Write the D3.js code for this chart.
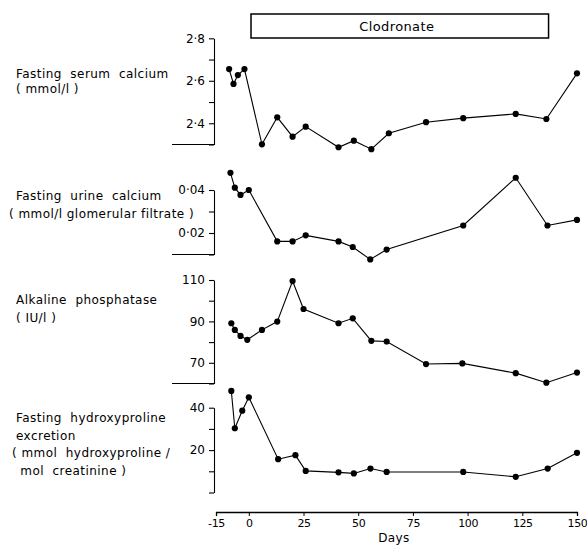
<!DOCTYPE html>
<html>
<head>
<meta charset="utf-8">
<script src="https://cdn.jsdelivr.net/npm/d3@7"></script>
<style>
html,body{margin:0;padding:0;background:#fff;}
svg{display:block;}
text{font-family:"DejaVu Sans",sans-serif;fill:#000;}
</style>
</head>
<body>
<svg id="chart" width="587" height="545"></svg>
<script>
// ---------- DATA ----------
const serumDays   = [-9, -7, -5, -2, 6, 13, 20, 26, 41, 48, 56, 64, 81, 98, 122, 136, 150];
const serumCa     = [2.655, 2.585, 2.627, 2.655, 2.301, 2.428, 2.337, 2.384, 2.287, 2.318, 2.278, 2.353, 2.405, 2.424, 2.444, 2.42, 2.635];

const urineDays   = [-8.4, -6.4, -3.8, 0, 13, 20, 26, 41, 47.5, 55.5, 63, 98, 122, 136.5, 150];
const urineCa     = [0.048, 0.0411, 0.0377, 0.040, 0.0161, 0.0161, 0.0189, 0.0161, 0.0135, 0.0077, 0.0123, 0.0235, 0.0457, 0.0235, 0.0261];

const alpDays     = [-8, -6.4, -3.8, -0.7, 6, 13, 20, 25, 41, 47.5, 56, 63, 81, 97.6, 122, 136, 150];
const alp         = [89.1, 85.9, 83, 81.1, 85.9, 89.9, 109.5, 96, 89.1, 91.5, 80.6, 80.3, 69.4, 69.7, 65, 60.4, 65.3];

const hypDays     = [-8, -6.4, -3, 0, 13.4, 21.3, 26, 41, 48, 55.6, 63, 98, 122, 136.6, 150];
const hyp         = [47.9, 30.3, 38.6, 44.9, 15.7, 17.6, 10.2, 9.5, 9.0, 11.3, 9.7, 9.7, 7.4, 11.3, 18.7];

const xTicks      = [-15, 0, 25, 50, 75, 100, 125, 150];
const treatment   = {label: "Clodronate", start: 1, end: 137};

const panelLabels = [
  ["Fasting  serum  calcium", "( mmol/l )"],
  ["Fasting  urine  calcium", "( mmol/l glomerular filtrate )"],
  ["Alkaline  phosphatase", "( IU/l )"],
  ["Fasting  hydroxyproline", "excretion", "( mmol  hydroxyproline /", " mol  creatinine )"]
];

// ---------- LAYOUT ----------
const svg = d3.select("#chart");
const axisX = 214;
const x = d3.scaleLinear().domain([-15, 150]).range([216, 577]);

const dot = s => s.replace(".", "\u00B7");

const panels = [
  {days: serumDays, vals: serumCa, domain: [2.3, 2.8], range: [144.5, 38.3],
   ticks: [2.3, 2.4, 2.5, 2.6, 2.7, 2.8], labels: [2.4, 2.6, 2.8], fmt: d => dot(d3.format(".1f")(d)),
   base: true, labelY: [74, 89], labelX: [16, 16]},
  {days: urineDays, vals: urineCa, domain: [0.01, 0.04], range: [254.5, 190],
   ticks: [0.01, 0.02, 0.03, 0.04], labels: [0.02, 0.04], fmt: d => dot(d3.format(".2f")(d)),
   base: true, labelY: [196, 214], labelX: [16, 9]},
  {days: alpDays, vals: alp, domain: [60, 110], range: [383.5, 280],
   ticks: [60, 70, 80, 90, 100, 110], labels: [70, 90, 110], fmt: d => String(d),
   base: true, labelY: [300, 318], labelX: [16, 16]},
  {days: hypDays, vals: hyp, domain: [0, 40], range: [492.5, 407.7],
   ticks: [0, 10, 20, 30, 40], labels: [20, 40], fmt: d => String(d),
   base: false, labelY: [418, 436, 453, 471], labelX: [16, 16, 12, 16]}
];

panels.forEach((p, i) => {
  const y = d3.scaleLinear().domain(p.domain).range(p.range);
  const g = svg.append("g");

  // y axis
  const ax = d3.axisLeft(y).tickValues(p.ticks).tickSize(5).tickSizeOuter(0).tickPadding(4)
    .tickFormat(d => p.labels.some(l => Math.abs(l - d) < 1e-9) ? p.fmt(d) : "");
  const ag = g.append("g").attr("transform", `translate(${axisX},0)`).call(ax);
  ag.select(".domain").attr("stroke", "#000").attr("stroke-width", 1.1);
  ag.selectAll(".tick line").attr("stroke", "#000").attr("stroke-width", 1.1);
  ag.selectAll(".tick text").style("font-family", '"DejaVu Sans",sans-serif').style("font-size", "12px").attr("fill", "#000");

  // baseline extending left
  if (p.base) {
    g.append("line")
      .attr("x1", 172).attr("x2", axisX)
      .attr("y1", y(p.domain[0])).attr("y2", y(p.domain[0]))
      .attr("stroke", "#000").attr("stroke-width", 1.2);
  }

  const pts = p.days.map((d, j) => [d, p.vals[j]]);
  const line = d3.line().x(d => x(d[0])).y(d => y(d[1]));
  g.append("path").datum(pts).attr("d", line)
    .attr("fill", "none").attr("stroke", "#000").attr("stroke-width", 1.1);
  g.selectAll("circle").data(pts).join("circle")
    .attr("cx", d => x(d[0])).attr("cy", d => y(d[1])).attr("r", 3.1).attr("fill", "#000");

  // panel label
  panelLabels[i].forEach((t, k) => {
    svg.append("text").attr("x", p.labelX[k]).attr("y", p.labelY[k])
      .attr("dy", "0.35em").style("font-size", "12px").style("letter-spacing", "0.45px")
      .style("white-space", "pre").attr("xml:space", "preserve")
      .text(t);
  });
});

// x axis
const xa = d3.axisBottom(x).tickValues(xTicks).tickSize(4).tickSizeOuter(4).tickPadding(3)
  .tickFormat(d => String(d));
const xg = svg.append("g").attr("transform", "translate(0,512)").call(xa);
xg.select(".domain").attr("stroke", "#000").attr("stroke-width", 1.3);
xg.selectAll(".tick line").attr("stroke", "#000");
xg.selectAll(".tick text").style("font-family", '"DejaVu Sans",sans-serif').style("font-size", "11px")
  .style("letter-spacing", "-0.4px").attr("fill", "#000");

svg.append("text").attr("x", 394).attr("y", 538).attr("dy", "0.35em")
  .attr("text-anchor", "middle").style("font-size", "12px").style("letter-spacing", "0.4px").text("Days");

// treatment box
svg.append("rect")
  .attr("x", x(treatment.start)).attr("y", 14)
  .attr("width", x(treatment.end) - x(treatment.start)).attr("height", 24)
  .attr("fill", "#fff").attr("stroke", "#000").attr("stroke-width", 1.5);
svg.append("text")
  .attr("x", (x(treatment.start) + x(treatment.end)) / 2 - 3).attr("y", 26).attr("dy", "0.35em")
  .attr("text-anchor", "middle").style("font-size", "13px").style("letter-spacing", "0.4px").text(treatment.label);
</script>
</body>
</html>
